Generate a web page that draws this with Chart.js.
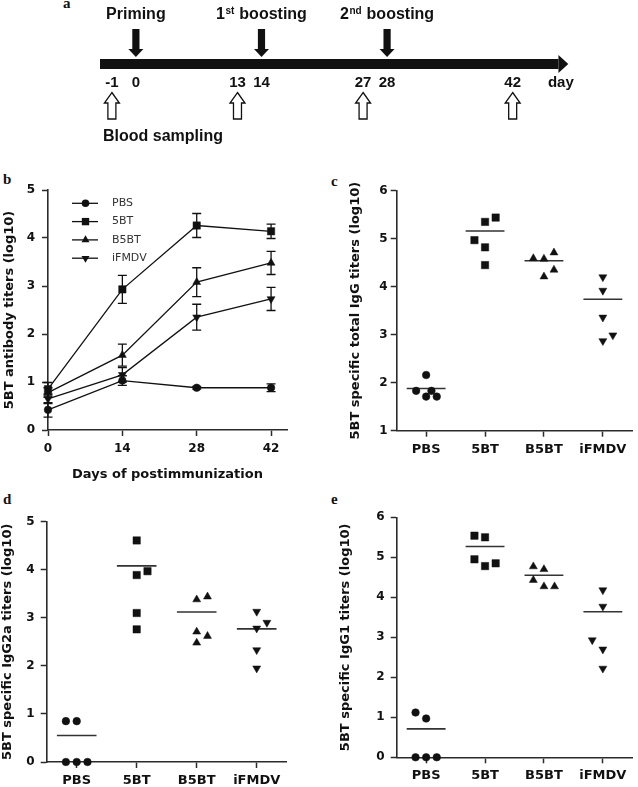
<!DOCTYPE html>
<html>
<head>
<meta charset="utf-8">
<script src="https://cdn.jsdelivr.net/npm/chart.js@4/dist/chart.umd.min.js"></script>
<style>
  body { margin: 0; background: #fff; width: 638px; height: 787px; position: relative; overflow: hidden; }
  canvas { position: absolute; }
  .tag { position: absolute; font: bold 15px "Liberation Serif", serif; line-height: 15px; color: #111; }
</style>
</head>
<body>
<div class="tag" style="left:63px;top:-4px">a</div>
<div class="tag" style="left:3px;top:172px">b</div>
<div class="tag" style="left:331px;top:174px">c</div>
<div class="tag" style="left:3px;top:492px">d</div>
<div class="tag" style="left:331px;top:492px">e</div>

<canvas id="panelA" width="638" height="160" style="left:0;top:0"></canvas>
<canvas id="panelB" width="320" height="320" style="left:0;top:170px"></canvas>
<canvas id="panelC" width="318" height="300" style="left:320px;top:170px"></canvas>
<canvas id="panelD" width="320" height="297" style="left:0;top:490px"></canvas>
<canvas id="panelE" width="318" height="297" style="left:320px;top:490px"></canvas>

<script>
const SANS = '"DejaVu Sans", sans-serif';
const ARIAL = '"Liberation Sans", Arial, sans-serif';
const INK = '#111';
const AXIS = '#2b2b2b';

/* ---- a: immunization schedule ---- */
const boostDays = [0, 14, 28];
const boostNames = ['Priming', '1st boosting', '2nd boosting'];
const sampleDays = [-1, 13, 27, 42];
const timelineSpan = [-4, 47.1];

/* ---- b: 5BT antibody titers over time ---- */
const days = [0, 14, 28, 42];
const groups = ['PBS', '5BT', 'B5BT', 'iFMDV'];
const pbsMean = [0.42, 1.03, 0.88, 0.88];
const pbsSd = [0.15, 0.10, 0.03, 0.08];
const bt5Mean = [0.85, 2.93, 4.26, 4.14];
const bt5Sd = [0.14, 0.29, 0.25, 0.15];
const b5btMean = [0.78, 1.56, 3.08, 3.48];
const b5btSd = [0.10, 0.23, 0.30, 0.24];
const ifmdvMean = [0.65, 1.15, 2.35, 2.73];
const ifmdvSd = [0.10, 0.15, 0.27, 0.24];

/* ---- c: total IgG ---- */
const totalIgG = [
  [2.16, 1.83, 1.83, 1.71, 1.71],
  [5.35, 5.44, 4.97, 4.82, 4.45],
  [4.59, 4.58, 4.71, 4.21, 4.35],
  [4.20, 3.92, 3.36, 2.87, 2.99]
];
const totalIgGJitter = [
  [0, -0.17, 0.09, 0, 0.18],
  [0, 0.18, -0.18, 0, 0],
  [-0.18, 0, 0.17, 0, 0.17],
  [0, 0, 0, 0, 0.17]
];
const totalIgGMean = [1.88, 5.16, 4.54, 3.74];

/* ---- d: IgG2a ---- */
const igg2a = [
  [0.85, 0.85, 0, 0, 0],
  [4.61, 3.89, 3.97, 3.10, 2.76],
  [3.38, 3.44, 2.71, 2.62, 2.48],
  [3.13, 2.78, 2.90, 2.33, 1.95]
];
const igg2aJitter = [
  [-0.18, 0, -0.18, 0, 0.18],
  [0, 0, 0.18, 0, 0],
  [0, 0.18, 0, 0.18, 0],
  [0, 0, 0.17, 0, 0]
];
const igg2aMean = [0.55, 4.08, 3.12, 2.77];

/* ---- e: IgG1 ---- */
const igg1 = [
  [1.12, 0.97, 0, 0, 0],
  [5.54, 5.50, 4.95, 4.78, 4.85],
  [4.77, 4.70, 4.43, 4.27, 4.27],
  [4.18, 3.77, 2.93, 2.70, 2.22]
];
const igg1Jitter = [
  [-0.18, 0, -0.18, 0, 0.18],
  [-0.18, 0, -0.18, 0, 0.18],
  [-0.18, 0, -0.18, 0, 0.18],
  [0, 0, -0.18, 0, 0]
];
const igg1Mean = [0.71, 5.27, 4.55, 3.64];

const markStyle = ['circle', 'rect', 'triangle', 'triangle'];
const markRot = [0, 0, 0, 180];
const markSize = [3.8, 5.2, 4.6, 4.6];

function drawMarker(ctx, style, x, y, r, rot) {
  ctx.beginPath();
  if (style === 'circle') {
    ctx.arc(x, y, r, 0, Math.PI * 2);
  } else if (style === 'rect') {
    const s = r * Math.SQRT1_2;
    ctx.rect(x - s, y - s, 2 * s, 2 * s);
  } else {
    let a = rot * Math.PI / 180;
    for (let k = 0; k < 3; k++) {
      const px = x + Math.sin(a) * r, py = y - Math.cos(a) * r;
      k ? ctx.lineTo(px, py) : ctx.moveTo(px, py);
      a += 2 * Math.PI / 3;
    }
    ctx.closePath();
  }
  ctx.fill();
}

/* timeline drawing */
const pairGap = 24;
function drawOrdinal(ctx, text, cx, cy) {
  const m = text.match(/^(\d)(st|nd|rd|th)(.*)$/);
  const big = 'bold 16px ' + ARIAL, small = 'bold 10px ' + ARIAL;
  if (!m) { ctx.font = big; ctx.textAlign = 'center'; ctx.fillText(text, cx, cy); return; }
  ctx.font = big; const w1 = ctx.measureText(m[1]).width, w3 = ctx.measureText(m[3]).width;
  ctx.font = small; const w2 = ctx.measureText(m[2]).width + 1;
  let x = cx - (w1 + w2 + w3) / 2;
  ctx.textAlign = 'left';
  ctx.font = big; ctx.fillText(m[1], x, cy); x += w1;
  ctx.font = small; ctx.fillText(m[2], x + 0.5, cy - 4); x += w2;
  ctx.font = big; ctx.fillText(m[3], x, cy);
}

const timelinePlugin = {
  id: 'timeline',
  afterDatasetsDraw(chart) {
    const { ctx, chartArea: a, scales: { x, y } } = chart;
    const barY = y.getPixelForValue(0);
    ctx.save();
    ctx.fillStyle = INK;
    ctx.textBaseline = 'middle';
    const endX = x.getPixelForValue(timelineSpan[1]);
    ctx.beginPath();
    ctx.moveTo(endX, barY - 9); ctx.lineTo(a.right, barY); ctx.lineTo(endX, barY + 9);
    ctx.closePath(); ctx.fill();

    boostDays.forEach((d, i) => {
      const px = x.getPixelForValue(d);
      const tip = barY - 7;
      ctx.fillRect(px - 3.6, tip - 28, 7.2, 20.5);
      ctx.beginPath();
      ctx.moveTo(px - 7.5, tip - 8); ctx.lineTo(px + 7.5, tip - 8); ctx.lineTo(px, tip);
      ctx.closePath(); ctx.fill();
      drawOrdinal(ctx, boostNames[i], px, barY - 49);
      ctx.font = 'bold 15px ' + ARIAL; ctx.textAlign = 'center';
      ctx.fillText(String(d), px, barY + 19);
    });

    sampleDays.forEach(d => {
      const px = boostDays.includes(d + 1) ? x.getPixelForValue(d + 1) - pairGap : x.getPixelForValue(d);
      ctx.fillStyle = INK;
      ctx.font = 'bold 15px ' + ARIAL; ctx.textAlign = 'center';
      ctx.fillText(String(d), px, barY + 19);
      const tip = barY + 28.5;
      ctx.beginPath();
      ctx.moveTo(px, tip); ctx.lineTo(px + 7.5, tip + 10.5); ctx.lineTo(px + 4, tip + 10.5);
      ctx.lineTo(px + 4, tip + 26.5); ctx.lineTo(px - 4, tip + 26.5); ctx.lineTo(px - 4, tip + 10.5);
      ctx.lineTo(px - 7.5, tip + 10.5); ctx.closePath();
      ctx.fillStyle = '#fff'; ctx.fill();
      ctx.strokeStyle = INK; ctx.lineWidth = 1.3; ctx.stroke();
    });

    ctx.fillStyle = INK;
    ctx.font = 'bold 15px ' + ARIAL; ctx.textAlign = 'center';
    ctx.fillText('day', a.right - 7.5, barY + 19);
    ctx.font = 'bold 16px ' + ARIAL; ctx.textAlign = 'left';
    ctx.fillText('Blood sampling', a.left + 3, barY + 73);
    ctx.restore();
  }
};

new Chart('panelA', {
  type: 'scatter',
  data: {
    datasets: [{
      data: timelineSpan.map(d => ({ x: d, y: 0 })),
      showLine: true, borderColor: INK, borderWidth: 10, borderCapStyle: 'butt',
      pointRadius: 0, clip: false
    }]
  },
  options: {
    responsive: false, animation: false, events: [],
    layout: { padding: { left: 100, right: 69.7, top: 0, bottom: 32 } },
    plugins: { legend: { display: false }, tooltip: { enabled: false } },
    scales: {
      x: { type: 'linear', display: false, min: -4, max: 48.2 },
      y: { type: 'linear', display: false, min: -1, max: 1 }
    }
  },
  plugins: [timelinePlugin]
});

/* ---- shared axis helpers ---- */
function axisStyle() {
  return {
    grid: { display: true, drawOnChartArea: false, drawTicks: true, tickLength: 6, tickColor: AXIS, tickWidth: 1.5, color: AXIS },
    border: { display: true, color: AXIS, width: 1.6 }
  };
}

function yAxis(min, max, width, title, titlePad, labelPad) {
  return Object.assign(axisStyle(), {
    type: 'linear', min, max,
    afterFit: s => { s.width = width; },
    ticks: { stepSize: 1, padding: labelPad, color: INK, font: { family: SANS, size: 12, weight: 'bold' } },
    title: { display: true, text: title, color: INK, padding: { top: titlePad, bottom: 0 }, font: { family: SANS, size: 13, weight: 'bold' } }
  });
}

/* ---- b ---- */
const errorBars = {
  id: 'errorBars',
  afterDatasetsDraw(chart) {
    const { ctx, scales: { x, y } } = chart;
    ctx.save();
    ctx.strokeStyle = INK; ctx.lineWidth = 1.3;
    chart.data.datasets.forEach(ds => {
      ds.data.forEach((p, i) => {
        const px = x.getPixelForValue(p.x);
        const hi = y.getPixelForValue(p.y + ds.sd[i]);
        const lo = y.getPixelForValue(p.y - ds.sd[i]);
        ctx.beginPath();
        ctx.moveTo(px, hi); ctx.lineTo(px, lo);
        ctx.moveTo(px - 4.5, hi); ctx.lineTo(px + 4.5, hi);
        ctx.moveTo(px - 4.5, lo); ctx.lineTo(px + 4.5, lo);
        ctx.stroke();
      });
    });
    ctx.restore();
  }
};

const lineLegend = {
  id: 'lineLegend',
  afterDraw(chart) {
    const { ctx, chartArea: a } = chart;
    ctx.save();
    chart.data.datasets.forEach((ds, i) => {
      const ly = a.top + 13.3 + i * 18.3;
      ctx.strokeStyle = INK; ctx.lineWidth = 1.3;
      ctx.beginPath(); ctx.moveTo(a.left + 24, ly); ctx.lineTo(a.left + 50, ly); ctx.stroke();
      ctx.fillStyle = INK;
      drawMarker(ctx, ds.pointStyle, a.left + 37.5, ly, ds.pointRadius, ds.pointRotation);
      ctx.fillStyle = '#333';
      ctx.font = '11px ' + SANS; ctx.textAlign = 'left'; ctx.textBaseline = 'middle';
      ctx.fillText(ds.label, a.left + 64, ly);
    });
    ctx.restore();
  }
};

const timeMeans = [pbsMean, bt5Mean, b5btMean, ifmdvMean];
const timeSds = [pbsSd, bt5Sd, b5btSd, ifmdvSd];

new Chart('panelB', {
  type: 'scatter',
  data: {
    datasets: groups.map((g, i) => ({
      label: g,
      data: days.map((d, j) => ({ x: d, y: timeMeans[i][j] })),
      sd: timeSds[i],
      showLine: true, borderColor: INK, borderWidth: 1.3,
      pointStyle: markStyle[i], pointRotation: markRot[i], pointRadius: markSize[i],
      pointBackgroundColor: INK, pointBorderColor: INK, pointBorderWidth: 0.5,
      clip: false
    }))
  },
  options: {
    responsive: false, animation: false, events: [],
    layout: { padding: { left: 0, right: 33, top: 20, bottom: 4 } },
    plugins: { legend: { display: false }, tooltip: { enabled: false } },
    scales: {
      x: Object.assign(axisStyle(), {
        type: 'linear', min: 0, max: 45,
        afterFit: s => { s.height = 56; },
        afterBuildTicks: s => { s.ticks = days.map(d => ({ value: d })); },
        ticks: { padding: 6, color: INK, font: { family: SANS, size: 12, weight: 'bold' } },
        title: { display: true, text: 'Days of postimmunization', color: INK, padding: { top: 0, bottom: 4 }, font: { family: SANS, size: 13, weight: 'bold' } }
      }),
      y: yAxis(0, 5, 48, '5BT antibody titers (log10)', 2, 7)
    }
  },
  plugins: [errorBars, lineLegend]
});

/* ---- c, d, e: dot plots with group means ---- */
function dotPlot(id, values, jitter, means, yMin, yMax, title, box) {
  const sets = groups.map((g, i) => ({
    label: g,
    data: values[i].map((v, j) => ({ x: i + 1 + jitter[i][j], y: v })),
    pointStyle: markStyle[i], pointRotation: markRot[i], pointRadius: markSize[i],
    pointBackgroundColor: INK, pointBorderColor: INK, pointBorderWidth: 0.5,
    showLine: false, clip: false
  }));
  const meanLine = [];
  means.forEach((m, i) => {
    meanLine.push({ x: i + 1 - 0.33, y: m }, { x: i + 1 + 0.33, y: m }, { x: i + 1.5, y: null });
  });
  sets.push({
    label: 'mean', data: meanLine, showLine: true, spanGaps: false,
    borderColor: '#333', borderWidth: 1.6, pointRadius: 0, clip: false
  });
  new Chart(id, {
    type: 'scatter',
    data: { datasets: sets },
    options: {
      responsive: false, animation: false, events: [],
      layout: { padding: { left: 0, right: box.right, top: box.top, bottom: 0 } },
      plugins: { legend: { display: false }, tooltip: { enabled: false } },
      scales: {
        x: Object.assign(axisStyle(), {
          type: 'linear', min: 0.5, max: 4.5,
          afterFit: s => { s.height = box.xh; },
          afterBuildTicks: s => { s.ticks = groups.map((g, i) => ({ value: i + 1 })); },
          ticks: {
            autoSkip: false, maxRotation: 0, padding: box.xpad,
            color: INK, font: { family: SANS, size: 13, weight: 'bold' },
            callback: v => groups[Math.round(v) - 1] || ''
          }
        }),
        y: yAxis(yMin, yMax, box.yw, title, box.tpad, box.lpad)
      }
    }
  });
}

dotPlot('panelC', totalIgG, totalIgGJitter, totalIgGMean, 1, 6,
  '5BT specific total IgG titers (log10)',
  { right: 1.3, top: 20.7, xh: 39.3, yw: 76.7, tpad: 28, lpad: 3, xpad: 5.5 });

dotPlot('panelD', igg2a, igg2aJitter, igg2aMean, 0, 5,
  '5BT specific IgG2a titers (log10)',
  { right: 33.3, top: 31.7, xh: 25, yw: 46.7, tpad: 0, lpad: 6, xpad: 5 });

dotPlot('panelE', igg1, igg1Jitter, igg1Mean, 0, 6,
  '5BT specific IgG1 titers (log10)',
  { right: 1.3, top: 27.3, xh: 29.7, yw: 76.7, tpad: 18, lpad: 6, xpad: 5 });
</script>
</body>
</html>
